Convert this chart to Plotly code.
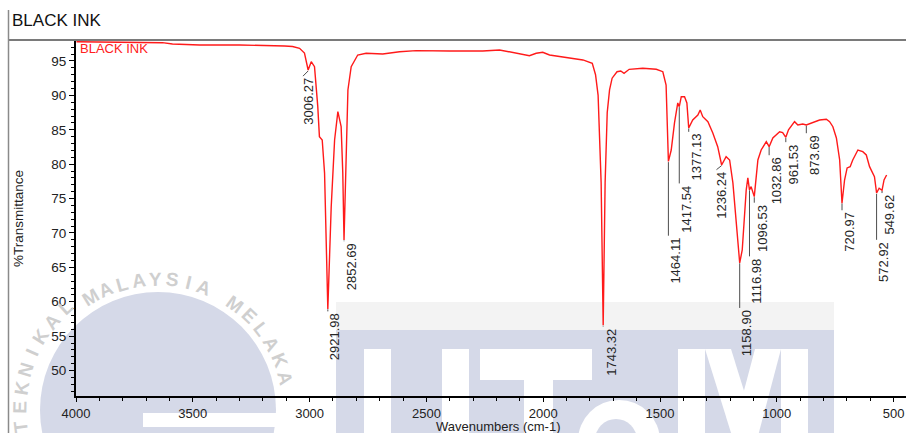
import math
import plotly.graph_objects as go

# ---------------- data ----------------
wavenumber = [
    3998, 3857, 3728, 3630, 3587, 3471, 3300, 3185, 3107, 3073, 3043, 3022,
    3006.3, 2993, 2979, 2965, 2958, 2946, 2936, 2922.0, 2907.5, 2893, 2879,
    2865, 2858, 2852.7, 2843, 2836, 2822, 2794, 2758, 2687, 2615, 2544, 2401,
    2259, 2187, 2144, 2087, 2059, 2030, 2002, 1973, 1902, 1830, 1790, 1776,
    1765, 1752, 1743.3, 1735, 1726, 1716, 1705, 1684, 1668, 1654, 1632, 1574,
    1516, 1488, 1474, 1464.1, 1452, 1438, 1424, 1417.5, 1409, 1395, 1385,
    1377.1, 1360, 1338, 1328, 1317, 1295, 1274, 1253, 1236.2, 1217, 1202,
    1188, 1174, 1158.9, 1148, 1138, 1131, 1124, 1117.0, 1110, 1096.5, 1081,
    1067, 1045, 1032.9, 1017, 988, 975, 961.5, 950, 924, 910, 889, 873.7,
    846, 817, 788, 774, 760, 745, 731, 726, 721.0, 710, 699, 686, 675, 653,
    632, 617, 603, 582, 572.9, 562, 549.6, 541, 530,
]
transmittance = [
    97.80, 97.76, 97.72, 97.66, 97.47, 97.33, 97.33, 97.28, 97.18, 97.11, 96.85, 96.16,
    93.69, 94.90, 94.17, 88.36, 84.00, 83.52, 78.72, 58.95, 73.82, 83.52, 87.63,
    85.45, 78.72, 68.98, 83.52, 90.78, 94.17, 95.87, 96.12, 96.02, 96.35, 96.50, 96.45,
    96.45, 96.60, 96.35, 95.97, 95.77, 96.12, 96.26, 95.87, 95.54, 95.15, 94.67, 93.00,
    90.00, 77.30, 56.60, 77.30, 87.50, 90.80, 92.50, 93.44, 93.55, 93.21, 93.79, 93.94,
    93.79, 93.44, 91.50, 80.40, 82.06, 85.99, 88.90, 88.36, 89.81, 89.81, 88.90,
    85.26, 86.42, 87.15, 87.88, 86.90, 86.18, 84.53, 82.54, 79.88, 81.09, 80.61,
    77.27, 71.45, 65.64, 67.53, 72.37, 76.25, 78.00, 76.25, 76.73, 75.28, 80.61,
    82.06, 83.27, 82.54, 83.81, 84.72, 84.60, 83.90, 85.00, 86.18, 85.70, 85.84, 85.70,
    86.03, 86.42, 86.53, 86.18, 85.45, 83.81, 80.61, 77.70, 74.32, 77.70, 79.45, 79.64, 80.61, 82.06,
    81.82, 81.34, 79.64, 78.18, 75.81, 76.50, 76.20, 77.70, 78.43,
]

peak_wavenumber = [3006.27, 2921.98, 2852.69, 1743.32, 1464.11, 1417.54, 1377.13, 1236.24,
                   1158.90, 1116.98, 1096.53, 1032.86, 961.53, 873.69, 720.97, 572.92, 549.62]
peak_tip = [93.55, 58.90, 68.90, 56.50, 80.30, 88.30, 85.20, 79.80,
            65.60, 76.20, 75.20, 82.50, 83.80, 85.60, 74.30, 75.70, 76.10]
peak_label_top = [92.80, 58.60, 68.80, 56.40, 69.60, 77.20, 84.70, 79.20,
                  59.10, 66.60, 74.40, 81.30, 83.20, 84.50, 73.30, 69.00, 75.80]
peak_hook = [True, False, False, False, False, False, False, True,
             False, False, False, False, False, False, False, False, False]

x_tick_values = [4000, 3500, 3000, 2500, 2000, 1500, 1000, 500]
y_tick_values = [50, 55, 60, 65, 70, 75, 80, 85, 90, 95]

chart_title = "BLACK INK"
series_name = "BLACK INK"
x_title = "Wavenumbers (cm-1)"
y_title = "%Transmittance"

# ---------------- layout geometry ----------------
FONT = "Liberation Sans, Arial, Helvetica, sans-serif"
W, H = 906, 433
ML, MT, MR, MB = 76, 40, 0, 37
PW, PH = W - ML - MR, H - MT - MB


def fx(p):
    return (p - ML) / PW


def fy(p):
    return (MT + PH - p) / PH


fig = go.Figure()

# leader lines for peak labels
lx, ly = [], []
for w, tip, top, hook in zip(peak_wavenumber, peak_tip, peak_label_top, peak_hook):
    lx += [w, w + (22 if hook else 0), None]
    ly += [tip, top, None]
fig.add_trace(go.Scatter(x=lx, y=ly, mode="lines", line=dict(color="#4d4d4d", width=1),
                         hoverinfo="skip", showlegend=False))

fig.add_trace(go.Scatter(x=wavenumber, y=transmittance, mode="lines", name=series_name,
                         line=dict(color="#ff1a1a", width=1.4), showlegend=False))

annotations = []
for w, top, hook in zip(peak_wavenumber, peak_label_top, peak_hook):
    annotations.append(dict(
        x=w, y=top, xref="x", yref="y", text=f"{w:.2f}", showarrow=False,
        textangle=-90, xanchor="center", yanchor="top", xshift=(0 if hook else 7.5),
        font=dict(family=FONT, size=13, color="#262626")))

# titles
annotations.append(dict(x=fx(10), y=fy(21), xref="paper", yref="paper", text=chart_title,
                        showarrow=False, xanchor="left", yanchor="middle",
                        font=dict(family=FONT, size=17, color="#111111")))
annotations.append(dict(x=fx(78), y=fy(48), xref="paper", yref="paper", text=series_name,
                        showarrow=False, xanchor="left", yanchor="middle",
                        font=dict(family=FONT, size=13, color="#ff2020")))
annotations.append(dict(x=fx(498), y=fy(435.5), xref="paper", yref="paper", text=x_title,
                        showarrow=False, xanchor="center", yanchor="bottom", borderpad=0,
                        font=dict(family=FONT, size=13, color="#222222")))
annotations.append(dict(x=fx(18), y=fy(218), xref="paper", yref="paper", text=y_title,
                        showarrow=False, xanchor="center", yanchor="middle", textangle=-90,
                        font=dict(family=FONT, size=13.5, color="#222222")))

# ---------------- faint watermark (university logo) ----------------
LAV = "#d5d9e8"
shapes = []


def rect(x0, y0, x1, y1, color):
    shapes.append(dict(type="rect", xref="paper", yref="paper", layer="below",
                       x0=fx(x0), x1=fx(x1), y0=fy(y1), y1=fy(y0),
                       fillcolor=color, line=dict(width=0)))


def circ(cx, cy, r, color):
    shapes.append(dict(type="circle", xref="paper", yref="paper", layer="below",
                       x0=fx(cx - r), x1=fx(cx + r), y0=fy(cy + r), y1=fy(cy - r),
                       fillcolor=color, line=dict(width=0)))


def poly(pts, color):
    d = "M " + " L ".join(f"{fx(a):.5f},{fy(b):.5f}" for a, b in pts) + " Z"
    shapes.append(dict(type="path", xref="paper", yref="paper", layer="below",
                       path=d, fillcolor=color, line=dict(width=0)))


circ(158, 410, 118, LAV)
rect(143, 413, 302, 427, "#ffffff")
circ(150, 420, 7, "#ffffff")
rect(336, 302, 834, 330, "#f3f3f3")
rect(336, 330, 834, 445, LAV)
rect(364, 349, 391, 445, "#ffffff")
rect(442, 349, 469, 445, "#ffffff")
rect(480, 349, 592, 380, "#ffffff")
rect(524, 380, 553, 445, "#ffffff")
circ(619, 441, 41, "#ffffff")
circ(616, 440, 21, LAV)
rect(678, 349, 705, 445, "#ffffff")
rect(781, 349, 808, 445, "#ffffff")
poly([(705, 349), (731, 349), (758, 436), (732, 436)], "#ffffff")
poly([(755, 349), (781, 349), (758, 436), (732, 436)], "#ffffff")

wm_text = "TEKNIKAL" + "MALAYSIA" + "MELAKA"
wm_angles = [-97, -89, -81, -73, -65.5, -58, -50, -42,
             -31, -23.5, -16, -8.5, -1, 6.5, 13.5, 20.5,
             36, 44, 52, 60, 68, 76]
for ch, ang in zip(wm_text, wm_angles):
    t = math.radians(ang)
    r = 131 if ang > -40 else 138
    annotations.append(dict(
        x=fx(158 + r * math.sin(t)), y=fy(410 - r * math.cos(t)),
        xref="paper", yref="paper", text=ch, showarrow=False, textangle=ang,
        xanchor="center", yanchor="middle",
        font=dict(family=FONT, size=19, color="#cfcfcf", weight=700)))

# frame lines of the page
shapes.append(dict(type="line", xref="paper", yref="paper", x0=fx(8.5), x1=fx(906),
                   y0=fy(40), y1=fy(40), line=dict(color="#7a7a7a", width=2)))
shapes.append(dict(type="line", xref="paper", yref="paper", x0=fx(8.5), x1=fx(8.5),
                   y0=fy(10), y1=fy(433), line=dict(color="#8a8a8a", width=1.5)))

axis_common = dict(showline=True, linecolor="black", linewidth=2, ticks="outside",
                   tickwidth=1, tickcolor="black", showgrid=False,
                   zeroline=False, mirror=False)

fig.update_layout(
    width=W, height=H, autosize=False,
    margin=dict(l=ML, r=MR, t=MT, b=MB, pad=0),
    paper_bgcolor="white", plot_bgcolor="rgba(0,0,0,0)",
    xaxis=dict(range=[4000, 447], tickvals=x_tick_values,
               ticktext=[str(v) for v in x_tick_values], ticklen=4,
               tickfont=dict(family=FONT, size=13, color="#222222"),
               minor=dict(ticks="outside", ticklen=3, tickwidth=1, tickcolor="black",
                          dtick=100, tick0=0, showgrid=False),
               **axis_common),
    yaxis=dict(range=[46.3, 98.05], tickvals=y_tick_values,
               ticktext=[str(v) for v in y_tick_values], ticklen=5,
               tickfont=dict(family=FONT, size=13.5, color="#222222"),
               minor=dict(ticks="outside", ticklen=3, tickwidth=1, tickcolor="black",
                          dtick=1, tick0=0, showgrid=False),
               **axis_common),
    annotations=annotations,
    shapes=shapes,
    showlegend=False,
)

fig.write_html("out.html", post_script="document.body.style.margin='0';")
